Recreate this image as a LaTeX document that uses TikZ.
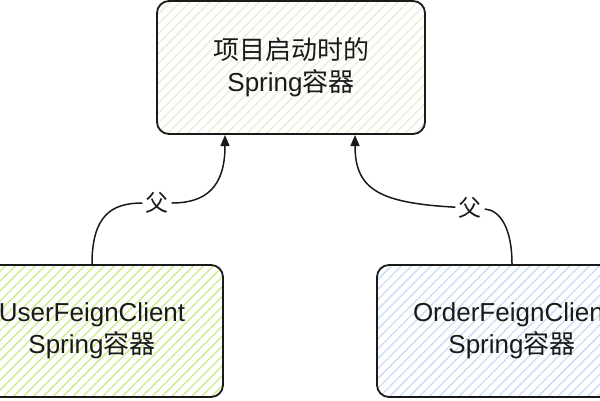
\documentclass[tikz,border=0pt]{standalone}
\usepackage{fontspec}
\setmainfont{Liberation Sans}
\newfontfamily\cjk{Noto Sans CJK SC}
\usetikzlibrary{patterns.meta,arrows.meta}
\definecolor{beigeh}{HTML}{EEEAD6}
\definecolor{greenh}{HTML}{CDEB8B}
\definecolor{blueh}{HTML}{C9DCF5}
\definecolor{ink}{HTML}{1A1A1A}
\tikzset{
  box/.style={draw=ink, line width=1.8bp, rounded corners=12bp, align=center,
    font=\fontsize{26bp}{32bp}\selectfont, text=ink, inner sep=0pt},
  hatch/.style={pattern={Lines[angle=45,distance=7bp,line width=1.3bp]}, pattern color=#1},
  conn/.style={draw=ink, line width=1.5bp},
  arr/.style={-{Triangle[length=11bp,width=9bp]}},
  lbl/.style={font=\cjk\fontsize{23bp}{23bp}\selectfont, text=ink, inner sep=3bp}
}
\begin{document}
\begin{tikzpicture}[x=1bp,y=-1bp]
\useasboundingbox (0,0) rectangle (600,400);
\clip (0,0) rectangle (600,400);
\node[box, hatch=beigeh, minimum width=268bp, minimum height=133bp] (top) at (291,67.5)
  {{\cjk 项目启动时的}\\Spring{\cjk 容器}};
\node[box, hatch=greenh, minimum width=262bp, minimum height=132bp] (left) at (92,331)
  {UserFeignClient\\Spring{\cjk 容器}};
\node[box, hatch=blueh, minimum width=270bp, minimum height=132bp] (right) at (512,331)
  {OrderFeignClient\\Spring{\cjk 容器}};
\coordinate (ta) at (225,135);
\coordinate (tb) at (355,135);
\node[lbl] (l1) at (157,203) {父};
\node[lbl] (l2) at (470,208) {父};
\draw[conn] (left.north) .. controls (92,215) and (112,203) .. (l1);
\draw[conn,arr] (l1) .. controls (205,203) and (225,188) .. (ta);
\draw[conn] (right.north) .. controls (512,228) and (500,210) .. (l2);
\draw[conn,arr] (l2) .. controls (380,203) and (355,190) .. (tb);
\end{tikzpicture}
\end{document}
